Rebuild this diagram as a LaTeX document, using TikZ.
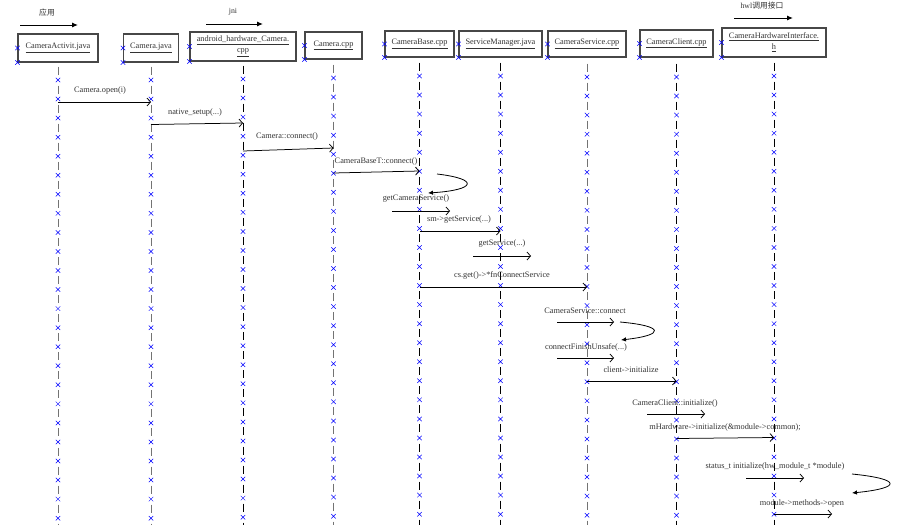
\documentclass[tikz,border=0pt]{standalone}
\usepackage{fontspec}
\setmainfont{Liberation Serif}
\newfontfamily\cjk{Noto Sans CJK SC}
\usetikzlibrary{arrows.meta,calc}
\tikzset{
  x=1pt, y=-1pt,
  box/.style={draw=black!72, line width=1.1pt, fill=white, inner sep=1pt, align=center,
              text=black!80, font=\fontsize{8.3}{12}\selectfont},
  lbl/.style={inner sep=0pt, text=black!80, font=\fontsize{8.3}{9.5}\selectfont},
  hlbl/.style={inner sep=0pt, text=black!80, font=\fontsize{7.8}{9}\selectfont},
  lifeg/.style={draw=black!55, line width=1pt, dash pattern=on 8pt off 11.05pt},
  lifeb/.style={draw=black, line width=0.9pt, dash pattern=on 8pt off 11.05pt},
  msg/.style={draw=black, line width=0.75pt, -{Straight Barb[length=3.5pt,width=8pt]}},
  loopar/.style={draw=black, line width=0.8pt, -{Latex[length=5pt,width=4.5pt]}},
  harrow/.style={draw=black, line width=1pt, -{Latex[length=6pt,width=5pt]}},
  mk/.pic={\draw[blue, line width=0.5pt] (-2.2,-2.2) -- (2.2,2.2) (-2.2,2.2) -- (2.2,-2.2);}
}
\begin{document}
\begin{tikzpicture}
\useasboundingbox[fill=white] (0,0) rectangle (916,525);

% header arrows
\node[hlbl] (h1) at (47,13) {\cjk 应用};
\coordinate (h1a) at (20,25); \coordinate (h1b) at (78,25);
\draw[harrow] (h1a) -- (h1b);
\node[hlbl] (h2) at (233,12) {jni};
\coordinate (h2a) at (206,24); \coordinate (h2b) at (263,24);
\draw[harrow] (h2a) -- (h2b);
\node[hlbl] (h3) at (762,6) {hwl{\cjk 调用接口}};
\coordinate (h3a) at (734,18); \coordinate (h3b) at (793,18);
\draw[harrow] (h3a) -- (h3b);

% lifeline boxes
\node[box, minimum width=80pt, minimum height=28pt] (b1) at (58,48) {\underline{CameraActivit.java}};
\node[box, minimum width=55pt, minimum height=28pt] (b2) at (151,48) {\underline{Camera.java}};
\node[box, minimum width=106pt, minimum height=29pt] (b3) at (243,46.5) {\underline{android\_hardware\_Camera.}\\[-1pt]\underline{cpp}};
\node[box, minimum width=57pt, minimum height=27pt] (b4) at (333.5,45.5) {\underline{Camera.cpp}};
\node[box, minimum width=69pt, minimum height=26pt] (b5) at (419.5,44) {\underline{CameraBase.cpp}};
\node[box, minimum width=83pt, minimum height=26pt] (b6) at (500.5,44) {\underline{ServiceManager.java}};
\node[box, minimum width=78pt, minimum height=26pt] (b7) at (587,44) {\underline{CameraService.cpp}};
\node[box, minimum width=73pt, minimum height=27pt] (b8) at (676.5,43.5) {\underline{CameraClient.cpp}};
\node[box, minimum width=104pt, minimum height=29pt] (b9) at (774,42.5) {\underline{CameraHardwareInterface.}\\[-1pt]\underline{h}};

% lifelines
\draw[lifeg] (b1.south |- 0,66.5) -- (b1.south |- 0,525);
\draw[lifeg] (b2.south |- 0,66.5) -- (b2.south |- 0,525);
\draw[lifeb] (b3.south |- 0,65.5) -- (b3.south |- 0,525);
\draw[lifeg] (b4.south |- 0,64.5) -- (b4.south |- 0,525);
\draw[lifeb] (b5.south |- 0,62.5) -- (b5.south |- 0,525);
\draw[lifeb] (b6.south |- 0,62.5) -- (b6.south |- 0,525);
\draw[lifeg] (b7.south |- 0,63.5) -- (b7.south |- 0,525);
\draw[lifeb] (b8.south |- 0,63.5) -- (b8.south |- 0,525);
\draw[lifeb] (b9.south |- 0,62.5) -- (b9.south |- 0,525);

% markers on box edges
\foreach \b in {b1,b2,b3,b4,b5,b6,b7,b8,b9}{
  \pic at (\b.west) {mk};
  \pic at (\b.south west) {mk};
}
% markers on lifelines
\foreach \x/\s in {58/80,151/80,243/79,333.5/78,419.5/76,500.5/76,587/77,676.5/77,774/76}{
  \foreach \k in {0,...,23}{
    \pic at (\x,{\s+19.05*\k}) {mk};
  }
}

% messages
\node[lbl] (m1) at (100,91) {Camera.open(i)};
\draw[msg] (b1.south |- 0,102) -- (b2.south |- 0,102);

\node[lbl] (m2) at (195,113) {native\_setup(...)};
\draw[msg] (b2.south |- 0,124.5) -- (b3.south |- 0,123);

\node[lbl] (m3) at (287,137) {Camera::connect()};
\draw[msg] (b3.south |- 0,151) -- (b4.south |- 0,148);

\node[lbl] (m4) at (376,162) {CameraBaseT::connect()};
\draw[msg] (b4.south |- 0,173) -- (b5.south |- 0,171);

\coordinate (l1s) at (437,174); \coordinate (l1e) at (428,193);
\draw[loopar] (l1s) .. controls (480,179) and (476,190) .. (l1e);

\node[lbl] (m5) at (416,199) {getCameraService()};
\coordinate (a5s) at (392,211); \coordinate (a5e) at (450,211);
\draw[msg] (a5s) -- (a5e);

\node[lbl] (m6) at (459,220) {sm->getService(...)};
\draw[msg] (b5.south |- 0,231) -- (b6.south |- 0,231);

\node[lbl] (m7) at (502,244) {getService(...)};
\coordinate (a7s) at (473,256); \coordinate (a7e) at (531,256);
\draw[msg] (a7s) -- (a7e);

\node[lbl] (m8) at (502,275) {cs.get()->*fnConnectService};
\draw[msg] (b5.south |- 0,287) -- (b7.south |- 0,287);

\node[lbl] (m9) at (585,311) {CameraService::connect};
\coordinate (a9s) at (557,322); \coordinate (a9e) at (614,322);
\draw[msg] (a9s) -- (a9e);

\coordinate (l2s) at (620,322); \coordinate (l2e) at (621,340);
\draw[loopar] (l2s) .. controls (665,326) and (665,335) .. (l2e);

\node[lbl] (m10) at (586,347) {connectFinishUnsafe(...)};
\coordinate (a10s) at (557,358); \coordinate (a10e) at (614,358);
\draw[msg] (a10s) -- (a10e);

\node[lbl] (m11) at (631,370) {client->initialize};
\draw[msg] (b7.south |- 0,381) -- (b8.south |- 0,381);

\node[lbl] (m12) at (675,403) {CameraClient::initialize()};
\coordinate (a12s) at (647,414); \coordinate (a12e) at (705,414);
\draw[msg] (a12s) -- (a12e);

\node[lbl] (m13) at (725,427) {mHardware->initialize(\&module->common);};
\draw[msg] (b8.south |- 0,438.5) -- (b9.south |- 0,437.5);

\node[lbl] (m14) at (775,466) {status\_t initialize(hw\_module\_t *module)};
\coordinate (a14s) at (746,478); \coordinate (a14e) at (804,478);
\draw[msg] (a14s) -- (a14e);

\coordinate (l3s) at (852,474); \coordinate (l3e) at (852,493);
\draw[loopar] (l3s) .. controls (902,479) and (902,488) .. (l3e);

\node[lbl] (m15) at (802,503) {module->methods->open};
\coordinate (a15e) at (832,514);
\draw[msg] (b9.south |- 0,514) -- (a15e);
\end{tikzpicture}
\end{document}
